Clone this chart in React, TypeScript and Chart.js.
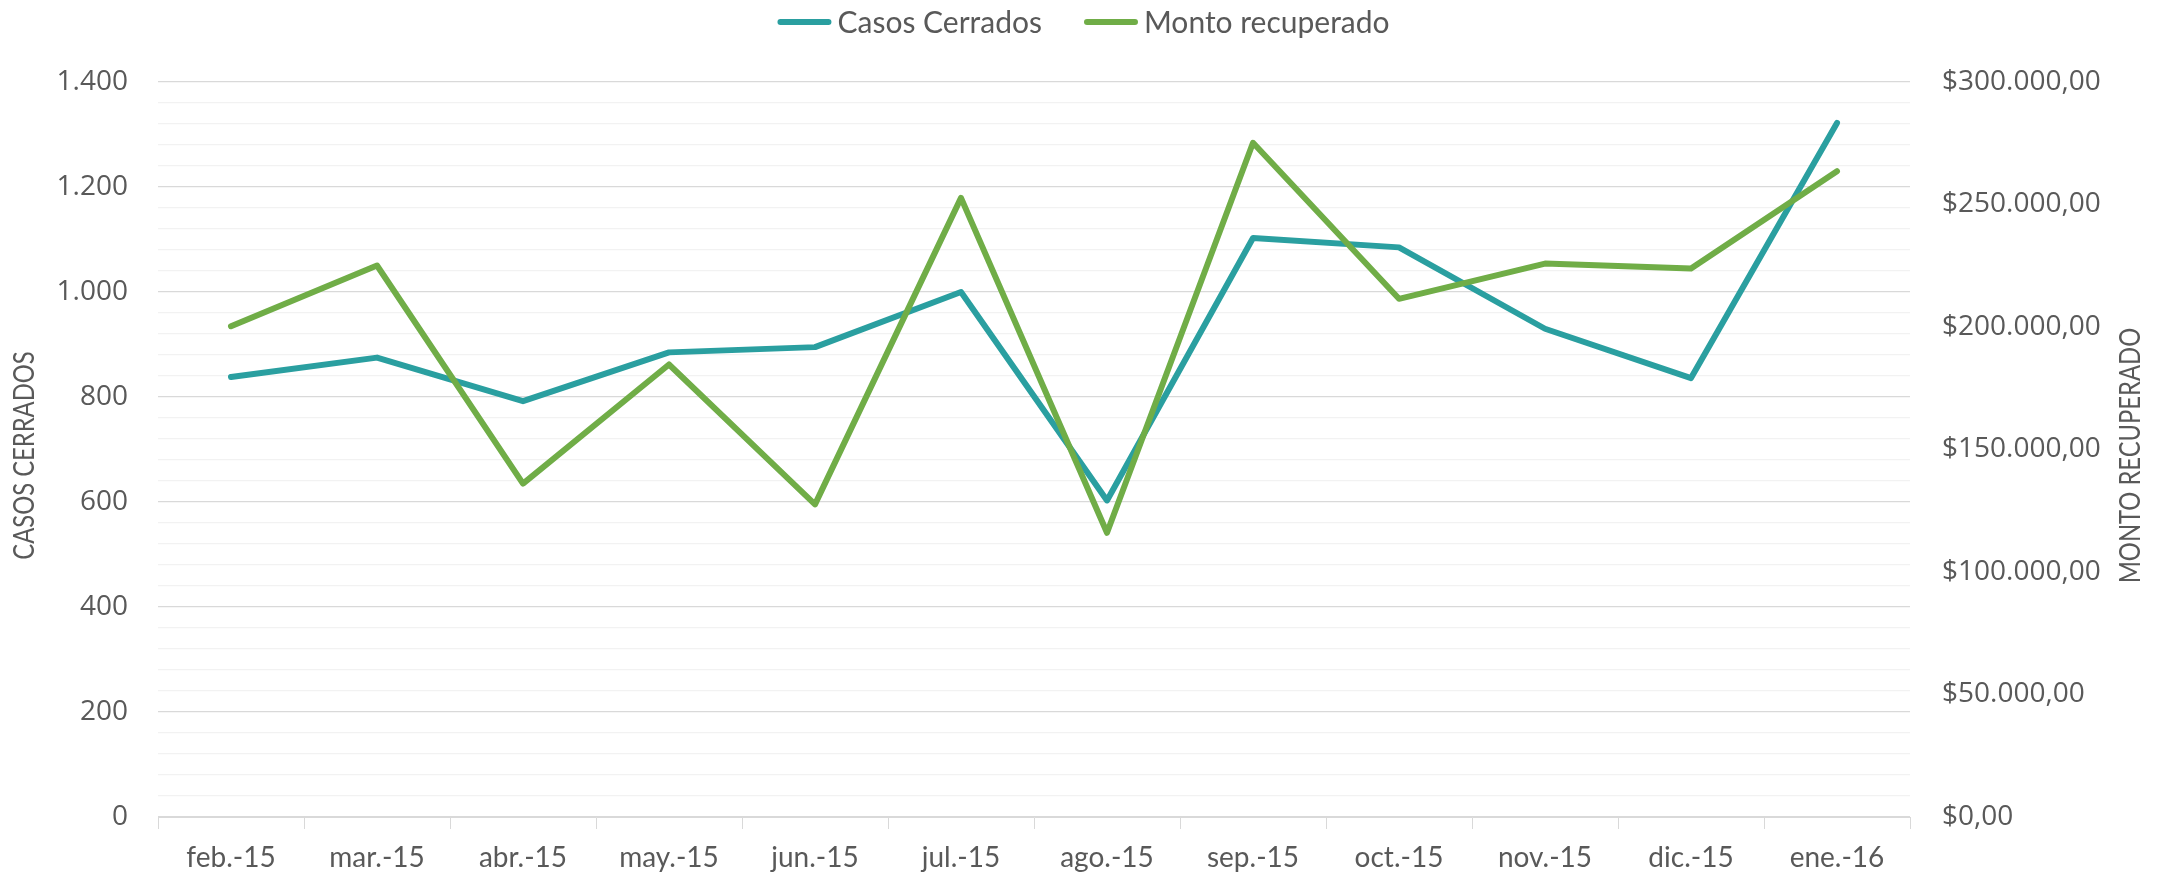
import React, { useEffect, useRef } from "react";
import { Chart, registerables } from "chart.js";

Chart.register(...registerables);

const categories = ["feb.-15", "mar.-15", "abr.-15", "may.-15", "jun.-15", "jul.-15", "ago.-15", "sep.-15", "oct.-15", "nov.-15", "dic.-15", "ene.-16"];
const casosCerrados = [838, 875, 792, 885, 895, 1000, 603, 1103, 1085, 930, 836, 1322];
const montoRecuperado = [200300, 225100, 136100, 184700, 127600, 252700, 116000, 275200, 211500, 225900, 223900, 263600];
const seriesNames = ["Casos Cerrados", "Monto recuperado"];
const axisTitles = ["CASOS CERRADOS", "MONTO RECUPERADO"];

const TEAL = "#2A9FA0";
const GREEN = "#70AD47";
const TEXT = "#595959";
const NARROW = "Lato, 'Open Sans', sans-serif";
const NUMFONT = "'Open Sans', sans-serif";

function fmtThousands(n: number): string {
  return Math.round(n).toString().replace(/\B(?=(\d{3})+(?!\d))/g, ".");
}

const customDraw = {
  id: "customDraw",
  afterDraw(chart: any) {
    const ctx = chart.ctx;
    const area = chart.chartArea;
    ctx.save();
    // legend
    ctx.font = `30px ${NARROW}`;
    ctx.textBaseline = "middle";
    const lineLen = 54;
    const gap = 6;
    const itemGap = 42;
    const colors = [TEAL, GREEN];
    const widths = seriesNames.map((s) => ctx.measureText(s).width);
    const total = widths.reduce((a, w) => a + lineLen + gap + w, 0) + itemGap;
    let x = chart.width / 2 - total / 2;
    const ly = 22;
    seriesNames.forEach((s, i) => {
      ctx.strokeStyle = colors[i];
      ctx.lineWidth = 6;
      ctx.lineCap = "round";
      ctx.beginPath();
      ctx.moveTo(x + 3, ly);
      ctx.lineTo(x + lineLen - 3, ly);
      ctx.stroke();
      ctx.fillStyle = TEXT;
      ctx.textAlign = "left";
      ctx.fillText(s, x + lineLen + gap, ly + 1);
      x += lineLen + gap + widths[i] + itemGap;
    });
    // axis titles (condensed)
    const cy = (area.top + area.bottom) / 2 + 6;
    ctx.font = `29px ${NARROW}`;
    ctx.textAlign = "center";
    ctx.fillStyle = TEXT;
    ctx.save();
    ctx.translate(25, cy);
    ctx.rotate(-Math.PI / 2);
    ctx.scale(0.82, 1);
    ctx.fillText(axisTitles[0], 0, 0);
    ctx.restore();
    ctx.save();
    ctx.translate(chart.width - 36, cy);
    ctx.rotate(-Math.PI / 2);
    ctx.scale(0.82, 1);
    ctx.fillText(axisTitles[1], 0, 0);
    ctx.restore();
    ctx.restore();
  },
};

export default function App() {
  const ref = useRef<HTMLCanvasElement>(null);
  useEffect(() => {
    if (!ref.current) return;
    const chart = new Chart(ref.current, {
      type: "line",
      data: {
        labels: categories,
        datasets: [
          {
            label: seriesNames[0],
            data: casosCerrados,
            borderColor: TEAL,
            backgroundColor: TEAL,
            borderWidth: 6,
            borderCapStyle: "round",
            borderJoinStyle: "round",
            pointRadius: 0,
            tension: 0,
            yAxisID: "y",
            order: 1,
          },
          {
            label: seriesNames[1],
            data: montoRecuperado,
            borderColor: GREEN,
            backgroundColor: GREEN,
            borderWidth: 6,
            borderCapStyle: "round",
            borderJoinStyle: "round",
            pointRadius: 0,
            tension: 0,
            yAxisID: "y1",
            order: 0,
          },
        ],
      },
      options: {
        responsive: false,
        animation: false,
        layout: { padding: { top: 82, left: 0, right: 0, bottom: 0 } },
        plugins: { legend: { display: false }, tooltip: { enabled: false } },
        scales: {
          x: {
            type: "category",
            offset: true,
            grid: { offset: true, drawOnChartArea: false, drawTicks: true, tickLength: 12, color: "#D9D9D9" },
            border: { color: "#D9D9D9", width: 1 },
            ticks: { color: TEXT, font: { family: NARROW, size: 28 }, padding: 12, maxRotation: 0, autoSkip: false },
            afterFit: (s: any) => { s.height = 58; },
          },
          y: {
            position: "left",
            min: 0,
            max: 1400,
            border: { display: false },
            grid: {
              drawTicks: false,
              color: (c: any) => (c.tick && c.tick.value % 200 === 0 ? "#D9D9D9" : "#F2F2F2"),
              lineWidth: 1.3,
            },
            ticks: {
              stepSize: 40,
              autoSkip: false,
              color: TEXT,
              font: { family: NUMFONT, size: 28 },
              padding: 30,
              callback: (v: any) => (Number(v) % 200 === 0 ? fmtThousands(Number(v)) : ""),
            },
            afterFit: (s: any) => { s.width = 158; },
          },
          y1: {
            position: "right",
            min: 0,
            max: 300000,
            border: { display: false },
            grid: { display: false, drawTicks: false },
            ticks: {
              stepSize: 50000,
              color: TEXT,
              font: { family: NUMFONT, size: 28 },
              padding: 32,
              callback: (v: any) => "$" + fmtThousands(Number(v)) + ",00",
            },
            afterFit: (s: any) => { s.width = 257; },
          },
        },
      },
      plugins: [customDraw],
    } as any);
    return () => chart.destroy();
  }, []);
  return (
    <div style={{ position: "fixed", left: 0, top: 0, width: 2167, height: 875, background: "#fff" }}>
      <canvas ref={ref} width={2167} height={875} />
    </div>
  );
}
